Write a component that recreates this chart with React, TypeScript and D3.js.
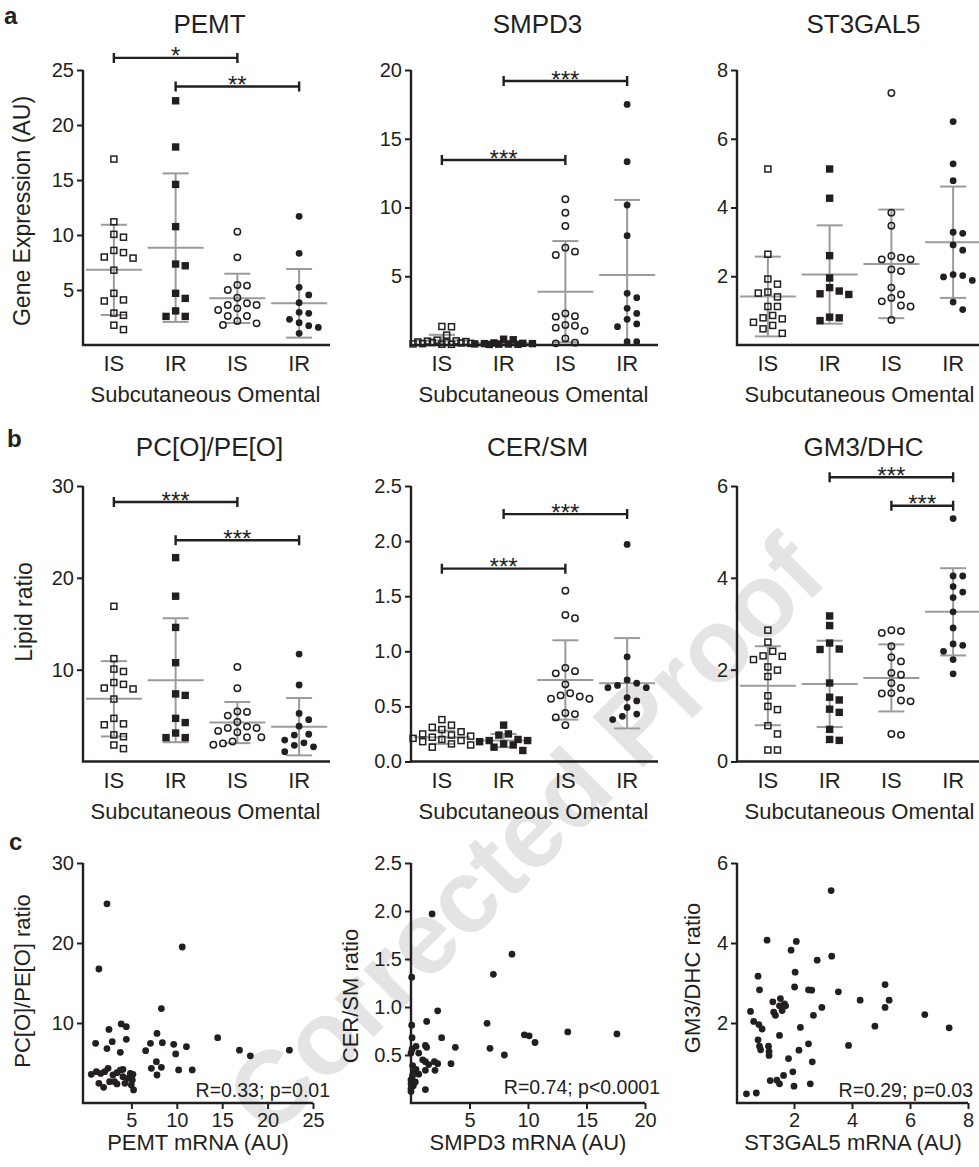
import React, { useEffect, useRef } from "react";
import * as d3 from "d3";

const W = 979;
const H = 1167;
const FONT = "'Liberation Sans', Arial, Helvetica, sans-serif";
const INK = "#231f20";
const GREY = "#9b9b9b";

const groupLabels = ["IS", "IR", "IS", "IR"];
const depotLabel = "Subcutaneous Omental";

// ---- a: gene expression (AU) ----
const pemtSubIS = [16.9, 11.2, 10.06, 9.8, 8.6, 8.4, 8.0, 7.9, 6.8, 4.7, 4.1, 4.0, 2.9, 2.7, 1.8, 1.4];
const pemtSubIR = [22.2, 18.0, 14.6, 10.76, 7.36, 7.2, 4.7, 4.24, 3.1, 2.6, 2.6];
const pemtOmIS = [10.3, 7.97, 5.45, 5.4, 5.0, 4.3, 3.8, 3.64, 3.64, 3.33, 3.18, 2.64, 2.64, 2.18, 1.97, 1.82];
const pemtOmIR = [11.7, 8.33, 5.24, 4.55, 3.85, 2.97, 2.88, 2.33, 2.03, 1.76, 1.6, 1.06];
const pemtMean = [6.83, 8.85, 4.24, 3.79];
const pemtSD = [4.1, 6.75, 2.24, 3.12];

const smpd3SubIS = [1.35, 1.33, 0.72, 0.35, 0.3, 0.28, 0.25, 0.22, 0.2, 0.18, 0.15, 0.12, 0.1, 0.08, 0.06, 0.05];
const smpd3SubIR = [0.42, 0.38, 0.15, 0.12, 0.1, 0.1, 0.08, 0.07, 0.06, 0.05, 0.04];
const smpd3OmIS = [10.6, 9.62, 8.65, 7.08, 6.79, 6.55, 2.3, 2.1, 2.06, 1.45, 1.4, 1.26, 1.04, 0.48, 0.17, 0.12];
const smpd3OmIR = [17.5, 13.33, 10.18, 7.95, 3.76, 3.44, 2.67, 2.3, 1.87, 1.53, 1.33, 0.24, 0.24];
const smpd3Mean = [0.32, 0.15, 3.88, 5.09];
const smpd3SD = [0.42, 0.12, 3.68, 5.46];

const st3SubIS = [5.12, 2.64, 1.92, 1.77, 1.54, 1.51, 1.4, 1.12, 1.12, 0.86, 0.79, 0.76, 0.66, 0.57, 0.47, 0.34];
const st3SubIR = [5.12, 4.27, 2.6, 1.95, 1.67, 1.57, 1.49, 1.47, 0.81, 0.79, 0.71];
const st3OmIS = [7.33, 3.85, 3.47, 2.59, 2.54, 2.49, 2.49, 2.2, 2.15, 1.67, 1.47, 1.37, 1.27, 1.15, 1.12, 0.73];
const st3OmIR = [6.5, 5.27, 4.78, 3.28, 3.25, 2.91, 2.76, 2.05, 2.02, 1.98, 1.88, 1.25, 1.03];
const st3Mean = [1.41, 2.05, 2.36, 2.99];
const st3SD = [1.16, 1.43, 1.58, 1.62];

// ---- b: lipid ratios (PC[O]/PE[O] panel shows the same values as PEMT) ----
const pcpeSubIS = pemtSubIS;
const pcpeSubIR = pemtSubIR;
const pcpeOmIS = pemtOmIS;
const pcpeOmIR = pemtOmIR;
const pcpeMean = pemtMean;
const pcpeSD = pemtSD;

const cerSubIS = [0.38, 0.33, 0.31, 0.29, 0.27, 0.25, 0.24, 0.23, 0.22, 0.21, 0.2, 0.19, 0.18, 0.16, 0.15, 0.13];
const cerSubIR = [0.33, 0.25, 0.24, 0.2, 0.19, 0.19, 0.18, 0.16, 0.15, 0.13, 0.1];
const cerOmIS = [1.55, 1.33, 1.3, 0.85, 0.82, 0.8, 0.7, 0.62, 0.6, 0.59, 0.57, 0.57, 0.44, 0.43, 0.4, 0.33];
const cerOmIR = [1.97, 0.95, 0.74, 0.71, 0.69, 0.67, 0.67, 0.58, 0.55, 0.49, 0.43, 0.41, 0.38];
const cerMean = [0.22, 0.19, 0.74, 0.71];
const cerSD = [0.06, 0.06, 0.36, 0.41];

const gm3SubIS = [2.86, 2.6, 2.4, 2.3, 2.29, 2.22, 2.06, 1.99, 1.85, 1.43, 1.2, 1.13, 0.78, 0.6, 0.25, 0.25];
const gm3SubIR = [3.17, 2.96, 2.58, 2.45, 2.44, 1.71, 1.4, 1.34, 1.14, 1.07, 0.7, 0.48, 0.46];
const gm3OmIS = [2.86, 2.84, 2.8, 2.51, 2.27, 2.18, 1.93, 1.89, 1.71, 1.6, 1.49, 1.48, 1.33, 1.31, 0.6, 0.58];
const gm3OmIR = [5.29, 4.04, 4.04, 3.81, 3.69, 3.57, 3.26, 2.91, 2.56, 2.53, 2.4, 2.22, 1.91];
const gm3Mean = [1.65, 1.69, 1.82, 3.26];
const gm3SD = [0.86, 0.94, 0.73, 0.95];

// significance brackets: group index from/to, height in data units
const pemtBrackets = [
  { from: 0, to: 2, y: 26.1, label: "*" },
  { from: 1, to: 3, y: 23.5, label: "**" },
];
const smpd3Brackets = [
  { from: 0, to: 2, y: 13.45, label: "***" },
  { from: 1, to: 3, y: 19.2, label: "***" },
];
const pcpeBrackets = [
  { from: 0, to: 2, y: 28.25, label: "***" },
  { from: 1, to: 3, y: 24.1, label: "***" },
];
const cerBrackets = [
  { from: 0, to: 2, y: 1.75, label: "***" },
  { from: 1, to: 3, y: 2.245, label: "***" },
];
const gm3Brackets = [
  { from: 1, to: 3, y: 6.19, label: "***" },
  { from: 2, to: 3, y: 5.57, label: "***" },
];

// ---- c: correlations [mRNA, lipid ratio] ----
const pemtVsPcpe = [
  [2.31, 24.9], [1.42, 16.75], [10.6, 19.5], [8.3, 11.8], [14.5, 8.17], [16.9, 6.6], [18.1, 5.9],
  [22.4, 6.6], [1.06, 7.46], [2.53, 9.2], [2.89, 7.67], [2.31, 6.8], [3.78, 6.33], [3.88, 9.88],
  [4.44, 9.54], [4.44, 7.96], [0.58, 3.58], [1.14, 3.92], [1.62, 3.7], [2.06, 3.92], [2.43, 4.33],
  [1.42, 2.46], [1.94, 1.96], [2.6, 2.67], [3.15, 2.67], [3.41, 3.79], [3.78, 4.12], [3.41, 2.38],
  [4.07, 3.29], [4.29, 2.46], [4.07, 4.2], [4.88, 3.7], [5.1, 2.88], [5.17, 3.58], [5.24, 1.63],
  [4.99, 2.25], [6.57, 6.54], [7.1, 7.46], [7.2, 4.33], [7.82, 3.5], [7.75, 5.17], [7.82, 8.7],
  [8.41, 7.54], [8.3, 4.46], [9.66, 7.33], [9.88, 6.13], [10.2, 4.13], [11.06, 7.04], [11.7, 4.13],
  [4.62, 3.08], [2.97, 3.5],
];
const smpd3VsCer = [
  [1.8, 1.97], [8.63, 1.55], [7.04, 1.34], [0.06, 1.31], [2.28, 0.96], [1.34, 0.85], [6.5, 0.83],
  [0.06, 0.81], [9.69, 0.71], [10.1, 0.7], [10.6, 0.63], [13.4, 0.74], [17.6, 0.72], [0.09, 0.68],
  [2.62, 0.68], [0.43, 0.59], [0.09, 0.56], [1.23, 0.6], [1.34, 0.58], [3.79, 0.58], [6.75, 0.57],
  [7.98, 0.5], [3.42, 0.41], [2.28, 0.41], [2.0, 0.43], [1.51, 0.4], [1.0, 0.45], [1.23, 0.43],
  [0.14, 0.39], [0.43, 0.35], [0.66, 0.3], [1.23, 0.34], [2.05, 0.34], [0.09, 0.25], [0.0, 0.2],
  [0.2, 0.18], [0.0, 0.15], [1.23, 0.14], [0.37, 0.22], [0.0, 0.24], [0.28, 0.32], [0.0, 0.52],
  [0.66, 0.52], [0.0, 0.12], [0.14, 0.29],
];
const st3VsGm3 = [
  [3.28, 5.31], [1.07, 4.07], [2.08, 4.04], [1.9, 3.82], [3.3, 3.67], [2.8, 3.57], [2.04, 3.27],
  [0.76, 3.17], [5.14, 2.96], [2.02, 2.9], [0.81, 2.83], [2.5, 2.83], [2.61, 2.82], [3.53, 2.78],
  [4.28, 2.57], [5.28, 2.57], [5.14, 2.39], [6.51, 2.21], [1.53, 2.61], [1.27, 2.53], [1.67, 2.48],
  [1.5, 2.43], [1.71, 2.43], [1.59, 2.31], [1.3, 2.27], [1.36, 2.19], [2.96, 2.39], [2.67, 2.19],
  [0.5, 2.29], [0.61, 2.04], [0.79, 1.96], [0.9, 1.85], [2.22, 1.89], [4.79, 1.92], [7.35, 1.88],
  [1.5, 1.69], [0.76, 1.58], [0.81, 1.42], [0.85, 1.33], [1.12, 1.42], [1.14, 1.29], [1.14, 1.19],
  [2.17, 1.32], [2.5, 1.48], [3.88, 1.44], [1.81, 1.11], [2.63, 1.03], [1.96, 0.78], [1.64, 0.69],
  [1.18, 0.56], [1.41, 0.57], [1.5, 0.48], [2.0, 0.42], [2.56, 0.48], [0.36, 0.23], [0.7, 0.25],
];

// ---- layout ----
const panelLeft = [83, 411, 737];
const stripWidth = 247;
const stripRows = [
  { top: 70, bottom: 345, titleY: 33 },
  { top: 486, bottom: 761.5, titleY: 456 },
];
const scatterTop = 863;
const scatterBottom = 1103;

const stripPanels = [
  { row: 0, col: 0, title: "PEMT", data: [pemtSubIS, pemtSubIR, pemtOmIS, pemtOmIR], mean: pemtMean, sd: pemtSD, max: 25, ticks: [5, 10, 15, 20, 25], fmt: "d", brackets: pemtBrackets },
  { row: 0, col: 1, title: "SMPD3", data: [smpd3SubIS, smpd3SubIR, smpd3OmIS, smpd3OmIR], mean: smpd3Mean, sd: smpd3SD, max: 20, ticks: [5, 10, 15, 20], fmt: "d", brackets: smpd3Brackets },
  { row: 0, col: 2, title: "ST3GAL5", data: [st3SubIS, st3SubIR, st3OmIS, st3OmIR], mean: st3Mean, sd: st3SD, max: 8, ticks: [2, 4, 6, 8], fmt: "d", brackets: [] },
  { row: 1, col: 0, title: "PC[O]/PE[O]", data: [pcpeSubIS, pcpeSubIR, pcpeOmIS, pcpeOmIR], mean: pcpeMean, sd: pcpeSD, max: 30, ticks: [10, 20, 30], fmt: "d", brackets: pcpeBrackets },
  { row: 1, col: 1, title: "CER/SM", data: [cerSubIS, cerSubIR, cerOmIS, cerOmIR], mean: cerMean, sd: cerSD, max: 2.5, ticks: [0, 0.5, 1, 1.5, 2, 2.5], fmt: ".1f", brackets: cerBrackets },
  { row: 1, col: 2, title: "GM3/DHC", data: [gm3SubIS, gm3SubIR, gm3OmIS, gm3OmIR], mean: gm3Mean, sd: gm3SD, max: 6, ticks: [0, 2, 4, 6], fmt: "d", brackets: gm3Brackets },
];

const scatterPanels = [
  { col: 0, pts: pemtVsPcpe, xMax: 25, xRange: [86, 313], yMax: 30, xTicks: [5, 10, 15, 20, 25], yTicks: [10, 20, 30], yFmt: "d", xLabel: "PEMT mRNA (AU)", xLabelX: 198, yLabel: "PC[O]/PE[O] ratio", yLabelX: 22, yLabelY: 981, stat: "R=0.33; p=0.01", statX: 330, statY: 1097 },
  { col: 1, pts: smpd3VsCer, xMax: 20, xRange: [411, 645], yMax: 2.5, xTicks: [5, 10, 15, 20], yTicks: [0.5, 1, 1.5, 2, 2.5], yFmt: ".1f", xLabel: "SMPD3 mRNA (AU)", xLabelX: 528, yLabel: "CER/SM ratio", yLabelX: 350, yLabelY: 996, stat: "R=0.74; p<0.0001", statX: 660, statY: 1094 },
  { col: 2, pts: st3VsGm3, xMax: 8, xRange: [736, 968], yMax: 6, xTicks: [2, 4, 6, 8], yTicks: [2, 4, 6], yFmt: "d", xLabel: "ST3GAL5 mRNA (AU)", xLabelX: 853, yLabel: "GM3/DHC ratio", yLabelX: 692, yLabelY: 978, stat: "R=0.29; p=0.03", statX: 973, statY: 1097 },
];

// simple beeswarm: horizontal offsets so markers don't overlap
function swarm(values: number[], y: (v: number) => number, step: number, maxOff: number) {
  const order = values.map((_, i) => i).sort((a, b) => values[b] - values[a]);
  const cands: number[] = [0];
  for (let k = 1; k <= 12; k++) cands.push((k * step) / 2, (-k * step) / 2);
  const placed: { x: number; y: number }[] = [];
  const out: number[] = new Array(values.length).fill(0);
  order.forEach((i) => {
    const py = y(values[i]);
    let best = 0;
    let bestD = -1;
    for (const c of cands) {
      if (Math.abs(c) > maxOff) continue;
      let dmin = Infinity;
      for (const p of placed) dmin = Math.min(dmin, Math.hypot(p.x - c, p.y - py));
      if (dmin >= step) {
        best = c;
        break;
      }
      if (dmin > bestD) {
        bestD = dmin;
        best = c;
      }
    }
    placed.push({ x: best, y: py });
    out[i] = best;
  });
  return out;
}

function marker(g: any, kind: number, cx: number, cy: number) {
  if (kind < 2) {
    const s = kind === 0 ? 6 : 7.4;
    g.append("rect")
      .attr("x", cx - s / 2)
      .attr("y", cy - s / 2)
      .attr("width", s)
      .attr("height", s)
      .attr("fill", kind === 0 ? "none" : INK)
      .attr("stroke", kind === 0 ? INK : "none")
      .attr("stroke-width", 1.5);
  } else {
    g.append("circle")
      .attr("cx", cx)
      .attr("cy", cy)
      .attr("r", kind === 2 ? 3.2 : 3.4)
      .attr("fill", kind === 2 ? "none" : INK)
      .attr("stroke", kind === 2 ? INK : "none")
      .attr("stroke-width", 1.5);
  }
}

function styleAxis(sel: any) {
  sel.select(".domain").remove();
  sel.selectAll(".tick line").attr("stroke", INK).attr("stroke-width", 2);
  sel.selectAll(".tick text").attr("fill", INK).attr("font-size", 20).attr("font-family", FONT);
}

function addText(svg: any, x: number, y: number, txt: string, size: number, anchor = "middle") {
  return svg
    .append("text")
    .attr("x", x)
    .attr("y", y)
    .attr("text-anchor", anchor)
    .attr("font-size", size)
    .attr("font-family", FONT)
    .attr("fill", INK)
    .text(txt);
}

export default function App() {
  const ref = useRef<SVGSVGElement>(null);

  useEffect(() => {
    const svg = d3.select(ref.current);
    svg.selectAll("*").remove();

    // watermark
    svg
      .append("text")
      .attr("transform", "translate(525,835) rotate(-45)")
      .attr("text-anchor", "middle")
      .attr("dominant-baseline", "central")
      .attr("font-size", 104)
      .attr("font-weight", "bold")
      .attr("font-family", FONT)
      .attr("fill", "#e4e4e4")
      .text("Corrected Proof");

    // panel letters
    [["a", 4, 24], ["b", 7, 447], ["c", 9, 850]].forEach(([t, x, y]) =>
      addText(svg, x as number, y as number, t as string, 24, "start").attr("font-weight", "bold")
    );

    // strip plots (rows a and b)
    stripPanels.forEach((p) => {
      const row = stripRows[p.row];
      const x0 = panelLeft[p.col];
      const y = d3.scaleLinear().domain([0, p.max]).range([row.bottom, row.top]);
      const x = d3
        .scalePoint<number>()
        .domain([0, 1, 2, 3])
        .range([x0, x0 + stripWidth])
        .padding(0.5);
      const g = svg.append("g");

      // mean ± SD
      p.mean.forEach((m, i) => {
        const cx = x(i)!;
        const yt = y(m + p.sd[i]);
        const yb = y(Math.max(0, m - p.sd[i]));
        const gl = (x1: number, y1: number, x2: number, y2: number) =>
          g.append("line").attr("x1", x1).attr("y1", y1).attr("x2", x2).attr("y2", y2)
            .attr("stroke", GREY).attr("stroke-width", 2);
        gl(cx, yt, cx, yb);
        gl(cx - 13, yt, cx + 13, yt);
        gl(cx - 13, yb, cx + 13, yb);
        gl(cx - 28, y(m), cx + 28, y(m));
      });

      // points
      p.data.forEach((vals, i) => {
        const offs = swarm(vals, y, 9.6, 30);
        vals.forEach((v, j) => marker(g, i, x(i)! + offs[j], y(v)));
      });

      // axes
      const ya = d3
        .axisLeft(y)
        .tickValues(p.ticks)
        .tickSize(6)
        .tickPadding(3)
        .tickFormat(d3.format(p.fmt) as any);
      g.append("g").attr("transform", `translate(${x0},0)`).call(ya).call(styleAxis);
      g.append("path")
        .attr("d", `M${x0},${row.top}V${row.bottom}H${x0 + stripWidth}`)
        .attr("fill", "none")
        .attr("stroke", INK)
        .attr("stroke-width", 2.4);

      groupLabels.forEach((lab, i) => addText(g, x(i)!, row.bottom + 26, lab, 22));
      addText(g, x0 + stripWidth / 2 - 1, row.bottom + 57, depotLabel, 22);
      addText(g, x0 + stripWidth / 2 + 3, row.titleY, p.title, 26);

      // significance brackets
      p.brackets.forEach((b) => {
        const xa = x(b.from)!;
        const xb = x(b.to)!;
        const yy = y(b.y);
        g.append("path")
          .attr("d", `M${xa},${yy - 5}V${yy + 5}M${xa},${yy}H${xb}M${xb},${yy - 5}V${yy + 5}`)
          .attr("fill", "none")
          .attr("stroke", INK)
          .attr("stroke-width", 2.4);
        addText(g, (xa + xb) / 2, yy + 6.5, b.label, 24);
      });
    });

    // y titles for strip rows
    addText(svg, 0, 0, "Gene Expression (AU)", 23).attr("transform", "translate(30,211) rotate(-90)");
    addText(svg, 0, 0, "Lipid ratio", 23).attr("transform", "translate(32,612) rotate(-90)");

    // scatter plots (row c)
    scatterPanels.forEach((p) => {
      const x0 = panelLeft[p.col];
      const x = d3.scaleLinear().domain([0, p.xMax]).range(p.xRange);
      const y = d3.scaleLinear().domain([0, p.yMax]).range([scatterBottom, scatterTop]);
      const g = svg.append("g");

      g.selectAll("circle.dot")
        .data(p.pts)
        .join("circle")
        .attr("class", "dot")
        .attr("cx", (d) => x(d[0]))
        .attr("cy", (d) => y(d[1]))
        .attr("r", 3.4)
        .attr("fill", INK);

      const ya = d3.axisLeft(y).tickValues(p.yTicks).tickSize(6).tickPadding(3)
        .tickFormat(d3.format(p.yFmt) as any);
      g.append("g").attr("transform", `translate(${x0},0)`).call(ya).call(styleAxis);
      const xa = d3.axisBottom(x).tickValues(p.xTicks).tickSize(6).tickPadding(4)
        .tickFormat(d3.format("d") as any);
      g.append("g").attr("transform", `translate(0,${scatterBottom})`).call(xa).call(styleAxis);
      g.append("path")
        .attr("d", `M${x0},${scatterTop}V${scatterBottom}H${p.xRange[1]}`)
        .attr("fill", "none")
        .attr("stroke", INK)
        .attr("stroke-width", 2.4);

      addText(g, p.xLabelX, 1150, p.xLabel, 22);
      addText(g, 0, 0, p.yLabel, 22).attr("transform", `translate(${p.yLabelX + 8},${p.yLabelY}) rotate(-90)`);
      addText(g, p.statX, p.statY, p.stat, 19.5, "end");
    });
  }, []);

  return (
    <svg
      ref={ref}
      width={W}
      height={H}
      viewBox={`0 0 ${W} ${H}`}
      style={{ position: "absolute", left: 0, top: 0, background: "#fff" }}
    />
  );
}
